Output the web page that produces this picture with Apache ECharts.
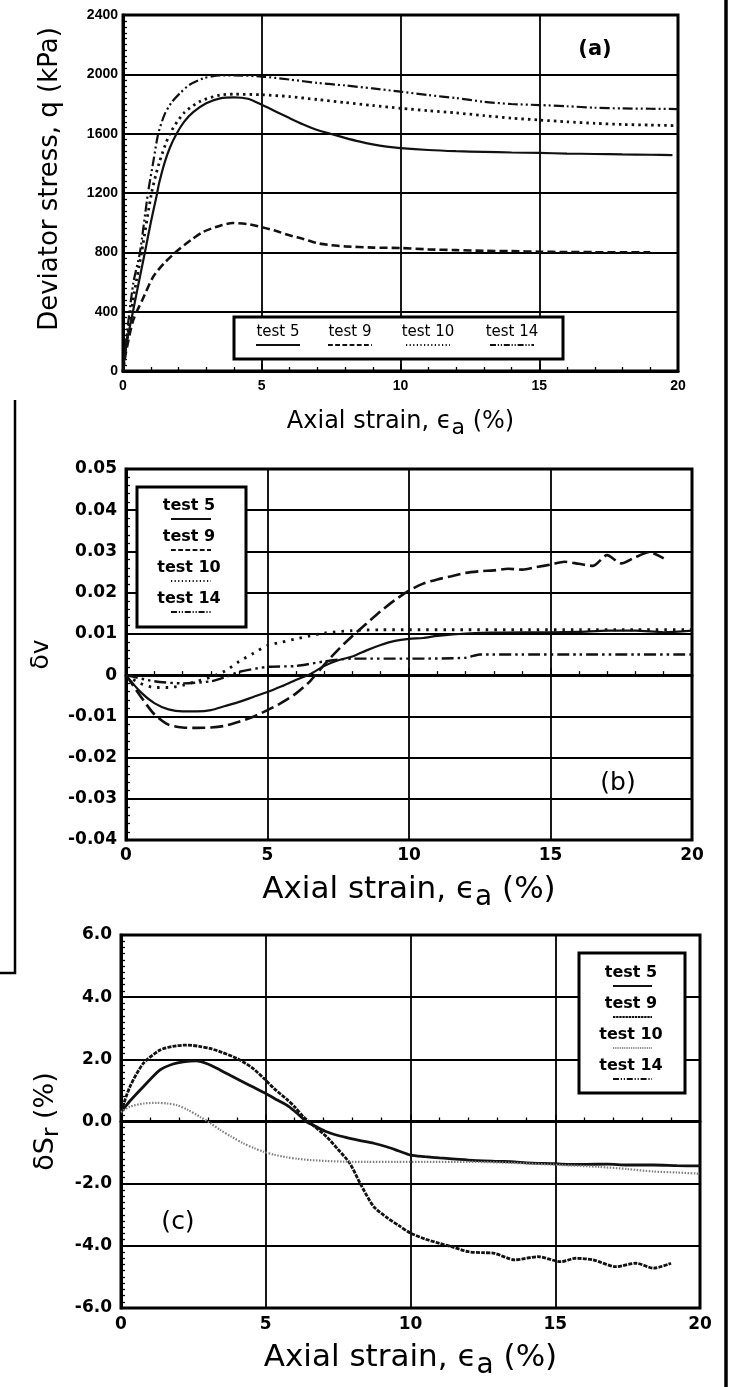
<!DOCTYPE html>
<html>
<head>
<meta charset="utf-8">
<script src="https://cdn.jsdelivr.net/npm/echarts@6/dist/echarts.min.js"></script>
<style>
html,body{margin:0;padding:0;background:#fff;}
#chart{width:730px;height:1387px;}
</style>
</head>
<body>
<div id="chart"></div>
<script>
// ---------- Panel (a): deviator stress q (kPa) ----------
const a5x  = [0,0.13,0.37,0.61,0.79,1.0,1.21,1.3,1.5,1.7,1.93,2.2,2.53,3.0,3.5,4.0,4.5,5.0,5.5,6.0,6.5,7.0,7.5,8.0,8.5,9.0,9.5,10,11,12,13,14,15,16,17,18,19,19.8];
const a5y  = [0,187,411,636,800,1000,1180,1265,1405,1510,1600,1680,1745,1805,1838,1845,1835,1795,1750,1705,1662,1625,1598,1572,1548,1528,1513,1503,1490,1482,1477,1473,1470,1466,1463,1460,1458,1455];
const a9x  = [0,0.1,0.37,0.7,1.09,1.5,1.99,2.5,2.9,3.5,3.96,4.5,5,5.5,6,6.5,7,7.5,8,9,10,11,12,13,14,15,16,17,18,19];
const a9y  = [0,120,344,480,636,730,816,890,939,980,998,990,970,945,915,890,862,848,840,832,829,820,815,810,808,804,802,801,800,800];
const a10x = [0,0.1,0.4,0.67,1.03,1.3,1.69,2.2,2.8,3.5,4,5,6,7,8,9,10,11,12,13,14,15,16,17,18,19,20];
const a10y = [0,150,520,800,1200,1400,1600,1740,1820,1860,1866,1862,1850,1830,1810,1790,1771,1755,1740,1722,1705,1692,1680,1670,1662,1658,1654];
const a14x = [0,0.1,0.37,0.61,0.9,1.1,1.27,1.5,1.75,2.05,2.4,2.9,3.25,3.5,4,5,6,7,8,9,10,11,12,13,14,15,16,17,18,19,20];
const a14y = [0,187,591,800,1200,1420,1600,1730,1810,1872,1930,1973,1988,1992,1993,1985,1965,1942,1925,1905,1883,1860,1840,1815,1800,1793,1785,1775,1770,1768,1766];

// ---------- Panel (b): δv ----------
const b5x  = [0,0.5,1,1.5,2,2.5,3,3.5,4,4.5,5,5.5,6,6.5,7,7.5,8,8.5,9,9.5,10,10.5,11,12,13,14,15,16,17,18,19,20];
const b5y  = [0,-0.004,-0.0068,-0.0083,-0.0088,-0.0088,-0.0085,-0.0075,-0.0065,-0.0053,-0.0041,-0.0027,-0.0012,0.0002,0.0022,0.0036,0.0045,0.006,0.0073,0.0083,0.0088,0.009,0.0095,0.0101,0.0103,0.0104,0.0104,0.0105,0.0108,0.0108,0.0104,0.0108];
const b9x  = [0,0.5,1,1.5,2,2.5,3,3.5,4,4.5,5,5.5,6,6.5,7,7.5,8,8.5,9,9.5,10,10.5,11,11.5,12,12.5,13,13.5,14,14.5,15,15.5,16,16.5,17,17.5,18,18.5,19];
const b9y  = [0,-0.005,-0.0095,-0.012,-0.0127,-0.0128,-0.0127,-0.0123,-0.0113,-0.0101,-0.0085,-0.0067,-0.0045,-0.0015,0.0025,0.0062,0.0095,0.0125,0.0155,0.0182,0.0205,0.0222,0.0232,0.024,0.0248,0.0252,0.0254,0.0258,0.0256,0.0262,0.0268,0.0275,0.027,0.0265,0.0291,0.0271,0.0286,0.0298,0.0283];
const b10x = [0,0.5,1,1.5,2,2.5,3,3.5,4,4.5,5,5.5,6,6.5,7,8,9,10,12,14,16,18,20];
const b10y = [0,-0.002,-0.003,-0.003,-0.0025,-0.0015,-0.0005,0.001,0.0033,0.0053,0.0072,0.008,0.0088,0.0095,0.0102,0.0108,0.011,0.011,0.011,0.011,0.011,0.011,0.011];
const b14x = [0,1,2,3,3.5,4,5,6,7,8,10,12,12.5,14,16,18,20];
const b14y = [0,-0.0015,-0.002,-0.0015,-0.0005,0.0008,0.002,0.0022,0.0033,0.004,0.004,0.0042,0.005,0.005,0.005,0.005,0.005];

// ---------- Panel (c): δSr (%) ----------
const c5x  = [0,0.3,0.77,1.35,1.8,2.15,2.6,3.0,3.42,3.8,4.2,4.6,5.0,5.4,5.8,6.1,6.4,6.75,7.1,7.5,7.9,8.3,8.73,9.2,9.6,10,10.5,11,12,13,13.6,14,15,15.2,16,16.8,17.5,18.4,19.2,20];
const c5y  = [0.3,0.65,1.12,1.66,1.85,1.92,1.95,1.85,1.66,1.47,1.28,1.09,0.9,0.69,0.48,0.25,0,-0.17,-0.33,-0.45,-0.54,-0.62,-0.7,-0.82,-0.95,-1.08,-1.13,-1.17,-1.24,-1.28,-1.3,-1.33,-1.36,-1.37,-1.38,-1.37,-1.4,-1.4,-1.42,-1.43];
const c9x  = [0,0.3,0.77,1.35,1.8,2.27,2.7,3.07,3.5,4.0,4.5,4.92,5.3,5.72,6.0,6.3,6.7,7.1,7.5,7.9,8.26,8.73,9.2,9.6,10,10.5,11,11.5,12,12.5,12.9,13.6,14.4,15.2,15.7,16.3,17.1,17.8,18.4,19];
const c9y  = [0.3,1.1,1.87,2.3,2.42,2.46,2.42,2.35,2.22,2.03,1.75,1.4,1.05,0.72,0.47,0.15,-0.17,-0.49,-0.9,-1.34,-1.99,-2.74,-3.1,-3.35,-3.59,-3.78,-3.92,-4.05,-4.19,-4.22,-4.24,-4.45,-4.35,-4.51,-4.4,-4.45,-4.67,-4.56,-4.72,-4.56];
const c10x = [0,0.31,0.8,1.23,1.6,1.92,2.3,2.73,3.1,3.42,3.8,4.22,4.6,4.92,5.3,5.72,6.1,6.53,7.1,7.68,8.5,9.5,10.5,12,13.5,15.2,16.5,17.5,18.4,19.2,20];
const c10y = [0.3,0.48,0.58,0.6,0.58,0.53,0.38,0.15,-0.06,-0.27,-0.48,-0.7,-0.86,-0.97,-1.07,-1.15,-1.2,-1.24,-1.27,-1.29,-1.3,-1.3,-1.3,-1.3,-1.33,-1.4,-1.46,-1.53,-1.61,-1.64,-1.68];

// ---------- labels ----------
const testNames = ['test 5','test 9','test 10','test 14'];
const xTitle = 'Axial strain, {e|ϵ}{s|a} (%)';
const yTitleA = 'Deviator stress, q (kPa)';
const yTitleB = 'δv';
const yTitleC = '{d|δS}{s|r} (%)';

function zip(xs, ys){ return xs.map((x,i)=>[x, ys[i]]); }

const BLACK = '#000';
const FONT = '"Liberation Sans", Arial, Helvetica, sans-serif';
const WIDE = '"DejaVu Sans", Verdana, sans-serif';

const styles = {
  t5:  {type:'solid', width:2.2, color:'#111'},
  t9:  {type:[8,4], width:2.6, color:'#111'},
  t10: {type:[2,4], width:2.4, color:'#111'},
  t14: {type:[10,3,2,3,2,3], width:2.2, color:'#111'}
};

function xAxisCfg(gi, fs, ff, fw, titleFs, gap, margin){
  return {
    type:'value', gridIndex:gi, min:0, max:20, interval:5,
    name: xTitle, nameLocation:'middle', nameGap:gap,
    nameTextStyle:{color:BLACK, fontFamily:WIDE, fontSize:titleFs,
      rich:{e:{fontSize:titleFs, fontFamily:WIDE, color:BLACK},
            s:{fontSize:Math.round(titleFs*0.9), fontFamily:WIDE, color:BLACK, padding:[Math.round(titleFs*0.55),0,0,0]}}},
    axisLine:{show:true, lineStyle:{color:BLACK, width:3}},
    axisTick:{show:true, inside:true, length:7, lineStyle:{color:BLACK, width:1.6}},
    minorTick:{show:true, splitNumber:5, length:4, lineStyle:{color:BLACK, width:1.3}},
    splitLine:{show:true, lineStyle:{color:BLACK, width:1.8}},
    axisLabel:{color:BLACK, fontFamily:ff, fontWeight:fw, fontSize:fs, margin:margin}
  };
}
function yAxisCfg(gi, min, max, interval, minorN, fs, ff, fw, fmt, name, nameFs, gap, margin, rich, pad){
  return {
    type:'value', gridIndex:gi, min:min, max:max, interval:interval,
    name:name, nameLocation:'middle', nameGap:gap, nameRotate:90,
    nameTextStyle:{color:BLACK, fontFamily:WIDE, fontSize:nameFs, rich:rich||{}, padding:pad||0},
    axisLine:{show:true, lineStyle:{color:BLACK, width:3}},
    axisTick:{show:true, inside:true, length:7, lineStyle:{color:BLACK, width:1.6}},
    minorTick:{show:true, splitNumber:minorN, length:4, lineStyle:{color:BLACK, width:1.3}},
    splitLine:{show:true, lineStyle:{color:BLACK, width:1.8}},
    axisLabel:{color:BLACK, fontFamily:ff, fontWeight:fw, fontSize:fs, margin:margin, formatter:fmt}
  };
}

function lineSeries(name, xs, ys, gi, ls){
  return {
    name:name, type:'line', xAxisIndex:gi, yAxisIndex:gi,
    data:zip(xs, ys), showSymbol:false, smooth:0.25,
    lineStyle:ls, itemStyle:{color:ls.color}, z:5, silent:true
  };
}

function legendLine(x1, x2, y, ls){
  return {type:'line', z:101, shape:{x1:x1, y1:y, x2:x2, y2:y},
    style:{stroke:ls.color, lineWidth:Math.min(ls.width,2.2), lineDash: ls.type==='solid'? null : ls.type.map(v=>v*0.6)}};
}
function legendText(x, y, txt, font){
  return {type:'text', z:101, x:x, y:y, style:{text:txt, font:font, fill:BLACK, align:'center', verticalAlign:'middle'}};
}

const lsList = [styles.t5, styles.t9, styles.t10, styles.t14];
const lsListC = [styles.t5, {type:[4,1.2], width:2.8, color:'#111'}, {type:[1.5,1.5], width:2.2, color:'#808080'}, styles.t14];

const graphics = [];
// panel (a) legend
graphics.push({type:'rect', z:100, shape:{x:234, y:317, width:329, height:42}, style:{fill:'#fff', stroke:BLACK, lineWidth:3}});
[278,350,428,512].forEach((cx,i)=>{
  graphics.push(legendText(cx, 332, testNames[i], '15px '+WIDE));
  graphics.push(legendLine(cx-22, cx+22, 345, lsList[i]));
});
// panel (b) legend
graphics.push({type:'rect', z:100, shape:{x:137, y:487, width:109, height:140}, style:{fill:'#fff', stroke:BLACK, lineWidth:3}});
[506,537,568,599].forEach((ty,i)=>{
  graphics.push(legendText(189, ty, testNames[i], 'bold 16px '+WIDE));
  graphics.push(legendLine(171, 211, ty+13, lsList[i]));
});
// panel (c) legend
graphics.push({type:'rect', z:100, shape:{x:579, y:953, width:106, height:140}, style:{fill:'#fff', stroke:BLACK, lineWidth:3}});
[973,1004,1035,1066].forEach((ty,i)=>{
  graphics.push(legendText(631, ty, testNames[i], 'bold 16px '+WIDE));
  graphics.push(legendLine(613, 652, ty+13, lsListC[i]));
});
// panel letters
graphics.push({type:'text', z:101, x:595, y:50, style:{text:'(a)', font:'bold 21px '+WIDE, fill:BLACK, align:'center', verticalAlign:'middle'}});
graphics.push({type:'text', z:101, x:618, y:783, style:{text:'(b)', font:'25px '+WIDE, fill:BLACK, align:'center', verticalAlign:'middle'}});
graphics.push({type:'text', z:101, x:178, y:1222, style:{text:'(c)', font:'25px '+WIDE, fill:BLACK, align:'center', verticalAlign:'middle'}});
// page frame marks
graphics.push({type:'line', z:101, shape:{x1:726, y1:0, x2:726, y2:1387}, style:{stroke:BLACK, lineWidth:3.5}});
graphics.push({type:'polyline', z:101, shape:{points:[[15,400],[15,973],[0,973]]}, style:{stroke:BLACK, lineWidth:2.5, fill:null}});

const option = {
  backgroundColor:'#fff',
  animation:false,
  grid:[
    {left:123, top:15, width:555, height:356, show:true, borderColor:BLACK, borderWidth:3, backgroundColor:'transparent'},
    {left:126, top:469, width:566, height:371, show:true, borderColor:BLACK, borderWidth:3, backgroundColor:'transparent'},
    {left:121, top:935, width:579, height:373, show:true, borderColor:BLACK, borderWidth:3, backgroundColor:'transparent'}
  ],
  xAxis:[
    xAxisCfg(0, 14, FONT, 'bold', 24, 33, 8),
    xAxisCfg(1, 17, WIDE, 'bold', 31, 27, 7),
    xAxisCfg(2, 17, WIDE, 'bold', 31, 27, 8)
  ],
  yAxis:[
    yAxisCfg(0, 0, 2400, 400, 10, 14, FONT, 'bold', v=>String(v), yTitleA, 26, 60, 5, null, [0,0,0,28]),
    yAxisCfg(1, -0.04, 0.05, 0.01, 5, 17, WIDE, 'bold', v=> (Math.abs(v)<1e-9 ? '0' : v.toFixed(2)), yTitleB, 25, 72, 9),
    yAxisCfg(2, -6, 6, 2, 10, 17, WIDE, 'bold', v=> v.toFixed(1), yTitleC, 27, 54, 9,
      {d:{fontSize:27, fontFamily:WIDE, color:BLACK}, s:{fontSize:23, fontFamily:WIDE, color:BLACK, padding:[13,0,0,0]}})
  ],
  series:[
    lineSeries(testNames[0], a5x, a5y, 0, styles.t5),
    lineSeries(testNames[1], a9x, a9y, 0, styles.t9),
    lineSeries(testNames[2], a10x, a10y, 0, {type:[2.5,4], width:2.8, color:'#111'}),
    lineSeries(testNames[3], a14x, a14y, 0, styles.t14),
    lineSeries(testNames[0], b5x, b5y, 1, styles.t5),
    lineSeries(testNames[1], b9x, b9y, 1, {type:[13,5], width:2.6, color:'#111'}),
    lineSeries(testNames[2], b10x, b10y, 1, {type:[2.5,6], width:2.8, color:'#111'}),
    lineSeries(testNames[3], b14x, b14y, 1, {type:[12,4,2.5,4,2.5,4], width:2.4, color:'#111'}),
    lineSeries(testNames[0], c5x, c5y, 2, {type:'solid', width:2.8, color:'#111'}),
    lineSeries(testNames[1], c9x, c9y, 2, lsListC[1]),
    lineSeries(testNames[2], c10x, c10y, 2, lsListC[2])
  ],
  graphic: graphics
};

const chart = echarts.init(document.getElementById('chart'), null, {renderer:'canvas'});
chart.setOption(option);
</script>
</body>
</html>
